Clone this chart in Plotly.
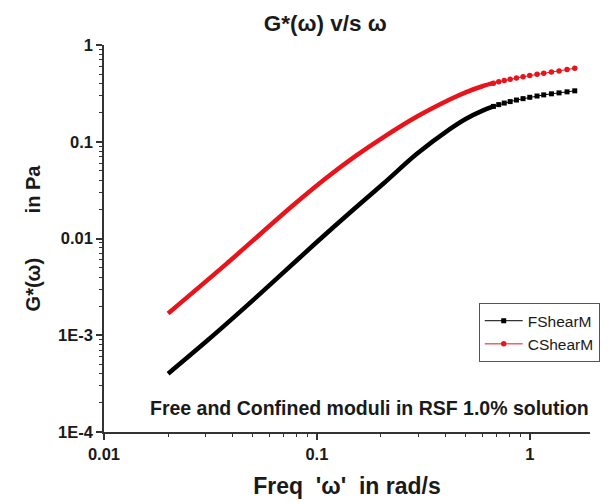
import plotly.graph_objects as go

# ---- data (freq in rad/s, |G*| in Pa) ----
# dense (continuous-looking) part of each curve
f_curve_x = [0.020, 0.030, 0.045, 0.0677, 0.100, 0.150, 0.205, 0.294, 0.421, 0.500, 0.604, 0.675]
f_curve_y = [4.0e-4, 8.5e-4, 1.86e-3, 4.2e-3, 9.2e-3, 0.0203, 0.0368, 0.0746, 0.135, 0.172, 0.211, 0.232]
c_curve_x = [0.020, 0.0377, 0.0771, 0.111, 0.150, 0.205, 0.294, 0.421, 0.500, 0.604, 0.675]
c_curve_y = [1.68e-3, 5.5e-3, 0.0219, 0.0424, 0.0697, 0.111, 0.181, 0.273, 0.324, 0.377, 0.403]

# individually visible points at the high-frequency end
dots_x = [0.675, 0.715, 0.759, 0.809, 0.866, 0.930, 1.000, 1.082, 1.163, 1.264, 1.373, 1.497, 1.627]
f_dots_y = [0.232, 0.242, 0.251, 0.260, 0.270, 0.279, 0.288, 0.297, 0.305, 0.313, 0.320, 0.328, 0.336]
c_dots_y = [0.403, 0.416, 0.429, 0.442, 0.456, 0.470, 0.483, 0.498, 0.511, 0.526, 0.540, 0.558, 0.575]

series_names = ["FShearM", "CShearM"]
x_tickvals = [0.01, 0.1, 1]
x_ticktext = ["0.01", "0.1", "1"]
y_tickvals = [1e-4, 1e-3, 0.01, 0.1, 1]
y_ticktext = ["1E-4", "1E-3", "0.01", "0.1", "1"]

FONT = "Liberation Sans, Arial, sans-serif"
BLACK = "#000000"
RED = "#e8141b"
TXT = "#1a1a1a"

fig = go.Figure()
fig.add_trace(go.Scatter(x=f_curve_x, y=f_curve_y, mode="lines",
                         line=dict(color=BLACK, width=4.5, shape="spline", smoothing=0.8),
                         showlegend=False, hoverinfo="skip"))
fig.add_trace(go.Scatter(x=c_curve_x, y=c_curve_y, mode="lines",
                         line=dict(color=RED, width=4.5, shape="spline", smoothing=0.8),
                         showlegend=False, hoverinfo="skip"))
fig.add_trace(go.Scatter(x=dots_x, y=f_dots_y, mode="lines+markers", name=series_names[0],
                         line=dict(color=BLACK, width=1),
                         marker=dict(symbol="square", size=5, color=BLACK)))
fig.add_trace(go.Scatter(x=dots_x, y=c_dots_y, mode="lines+markers", name=series_names[1],
                         line=dict(color=RED, width=1),
                         marker=dict(symbol="circle", size=5.5, color=RED)))

minor_x = [m * 10.0 ** e for e in (-2, -1, 0) for m in range(2, 10) if m * 10.0 ** e < 2]
minor_y = [m * 10.0 ** e for e in (-4, -3, -2, -1) for m in range(2, 10)]

axis_common = dict(showline=True, linecolor="#333333", linewidth=1.5, ticks="outside", ticklen=6,
                   tickwidth=1.5, tickcolor="#333333", showgrid=False, zeroline=False, mirror=False,
                   automargin=False,
                   tickfont=dict(family=FONT, size=16.5, color=TXT, weight="bold"))

gap = "\u00a0" * 8

fig.update_layout(
    width=616, height=504,
    margin=dict(l=104, r=26, t=45, b=72),
    paper_bgcolor="white", plot_bgcolor="white",
    title=dict(text="G*(ω) v/s ω", x=0.528, xanchor="center", y=0.954, yanchor="middle",
               font=dict(family=FONT, size=22.5, color=TXT, weight="bold")),
    xaxis=dict(type="log", range=[-2, 0.283], tickmode="array", tickvals=x_tickvals, ticktext=x_ticktext,
               minor=dict(tickmode="array", tickvals=minor_x, ticks="outside", ticklen=3,
                          tickcolor="#333333", tickwidth=1),
               title=dict(text="Freq\u00a0\u00a0'ω'\u00a0\u00a0in rad/s", standoff=16,
                          font=dict(family=FONT, size=23, color=TXT, weight="bold")),
               **axis_common),
    yaxis=dict(type="log", range=[-4, 0], tickmode="array", tickvals=y_tickvals, ticktext=y_ticktext,
               minor=dict(tickmode="array", tickvals=minor_y, ticks="outside", ticklen=3,
                          tickcolor="#333333", tickwidth=1),
               title=dict(text="G*(ω)" + gap + "in Pa", standoff=12,
                          font=dict(family=FONT, size=20, color=TXT, weight="bold")),
               **axis_common),
    legend=dict(x=1.02, y=0.333, xanchor="right", yanchor="top", bgcolor="white",
                bordercolor="#555555", borderwidth=1, font=dict(family=FONT, size=15.5, color=TXT),
                itemwidth=38, tracegroupgap=0),
    annotations=[dict(text="Free and Confined moduli in RSF 1.0% solution", xref="paper", yref="paper",
                      x=0.547, y=0.062, xanchor="center", yanchor="middle", showarrow=False,
                      font=dict(family=FONT, size=19.5, color=TXT, weight="bold"))],
)

fig.write_html("out.html")
